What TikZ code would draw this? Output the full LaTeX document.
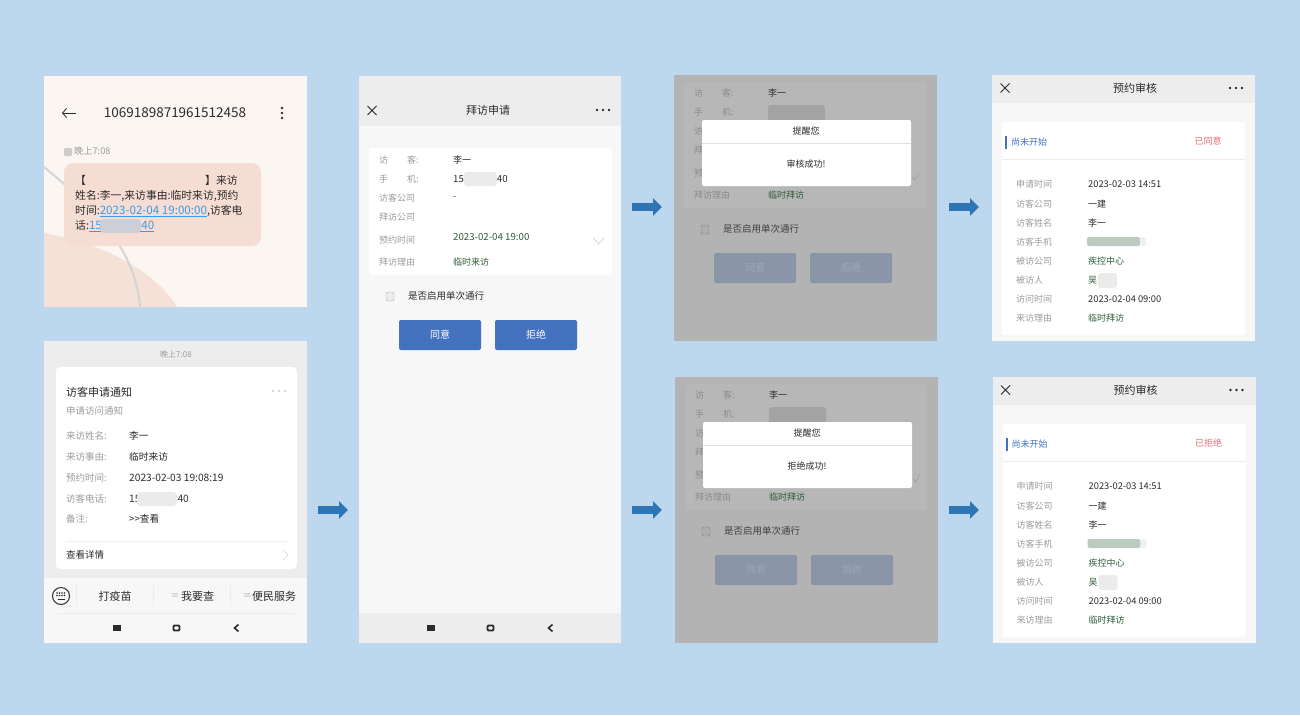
\documentclass[tikz,border=0pt]{standalone}
\usepackage{fontspec}
\setmainfont{Noto Sans CJK SC}
\usetikzlibrary{arrows.meta}

\definecolor{bgblue}{HTML}{BDD7EE}
\definecolor{arrowblue}{HTML}{2E75B6}
\definecolor{btnblue}{HTML}{4472BE}
\definecolor{btndim}{HTML}{8A95A8}
\definecolor{btndimtext}{HTML}{9DA7B7}
\definecolor{linkblue}{HTML}{3C9BE8}
\definecolor{okgreen}{HTML}{2F5E3A}
\definecolor{redtag}{HTML}{E8707A}
\definecolor{labgray}{HTML}{9C9C9C}
\definecolor{valdark}{HTML}{2B2B2B}
\definecolor{headgray}{HTML}{EDEDED}
\definecolor{pagegray}{HTML}{F7F7F7}
\definecolor{dimgray}{HTML}{B3B3B3}
\definecolor{dimcard}{HTML}{B7B7B7}
\definecolor{smsback}{HTML}{FBF6F2}
\definecolor{smspink}{HTML}{F5DDD3}

\tikzset{
  lab/.style={anchor=west,inner sep=0pt,text=labgray,font=\fontsize{9}{9}\selectfont},
  val/.style={anchor=west,inner sep=0pt,text=valdark,font=\fontsize{9}{9}\selectfont},
  grn/.style={val,text=okgreen},
  head/.style={inner sep=0pt,text=valdark,font=\fontsize{11}{11}\selectfont},
  sms/.style={anchor=west,inner sep=0pt,text=valdark,font=\fontsize{10.8}{11}\selectfont},
  btn/.style={inner sep=0pt,text=white,font=\fontsize{10}{10}\selectfont},
  flow/.style={draw=arrowblue,line width=7.5pt,-{Triangle[length=9pt,width=17pt]}},
  icon/.style={draw=valdark,line width=0.8pt},
}
\newcommand{\smslink}[1]{\textcolor{linkblue}{\fontsize{11.6}{11}\selectfont\underline{#1}}}
\newcommand{\numtxt}[1]{{\fontsize{10.2}{10}\selectfont #1}}

\begin{document}
\begin{tikzpicture}[x=1pt, y=-1pt]

\useasboundingbox[fill=bgblue] (0,0) rectangle (1300,715);

% text message
\fill[smsback] (44,76) rectangle (307,307);
\begin{scope}
\clip (44,76) rectangle (307,307);
\fill[smspink!85!smsback] (44,233) .. controls (100,243) and (155,270) .. (177,307) -- (44,307) -- cycle;
\draw[line width=2pt,black!17] (44,167) .. controls (90,205) and (135,245) .. (140,307);
\end{scope}
\fill[smspink,rounded corners=9pt] (64,163) rectangle (261,246);
\draw[icon,-{Straight Barb[length=4pt,width=9pt]}] (76,113) -- (62,113);
\foreach \i in {108,113,118} \fill[valdark] (282,\i) circle (1.4pt);
\node[head,font=\fontsize{13.5}{14}\selectfont] (smsnumber) at (175,113) {1069189871961512458};
\fill[black!20,rounded corners=1pt] (64,148) rectangle (72,156);
\node[lab,font=\fontsize{9.2}{9}\selectfont] (smstime) at (74,151) {晚上7:08};
\node[sms] (smsline1a) at (75,180) {【};
\node[sms] (smsline1b) at (205,180) {】来访};
\node[sms] (smsline2) at (75,196) {姓名:李一,来访事由:临时来访,预约};
\node[sms] (smsline3) at (75,211) {时间:\smslink{2023-02-04 19:00:00},访客电};
\node[sms] (smsline4) at (75,226) {话:\smslink{15\hspace{39.5pt}40}};
\fill[linkblue!22!smspink,rounded corners=4pt] (100,219) rectangle (141,233);

% service notice
\fill[headgray] (44,341) rectangle (307,643);
\fill[white,rounded corners=4pt] (56,367) rectangle (297,569);
\fill[pagegray] (44,578) rectangle (307,643);
\node[lab,inner sep=0pt,anchor=center,font=\fontsize{8}{8}\selectfont] (noticetime) at (176,354) {晚上7:08};
\node[val,font=\fontsize{11}{11}\selectfont] (noticetitle) at (66,392) {访客申请通知};
\node[lab,font=\fontsize{9.5}{10}\selectfont] (noticesub) at (66,411) {申请访问通知};
\foreach \i in {273,279,285} \fill[black!30] (\i,391) circle (0.8pt);
\foreach \i/\y/\a/\b in {1/436/来访姓名:/李一, 2/457/来访事由:/临时来访, 3/478/预约时间:/\numtxt{2023-02-03 19:08:19}, 4/499/访客电话:/\numtxt{15\hspace{37pt}40}, 5/519/备注:/>\kern0pt>查看} {
  \node[lab,font=\fontsize{9.5}{10}\selectfont] (noticelab\i) at (66,\y) {\a};
  \node[val,font=\fontsize{9.7}{10}\selectfont] (noticeval\i) at (129,\y) {\b};
}
\fill[black!8,rounded corners=4pt] (137,492) rectangle (177,506);
\draw[black!6] (66,541) -- (287,541);
\node[val,font=\fontsize{9.5}{10}\selectfont] (noticemore) at (66,555) {查看详情};
\draw[black!15] (283,550) -- (288,555) -- (283,560);
% menu of the notice screen
\draw[icon,line width=1pt] (61,596) circle (8.5pt);
\foreach \x in {57,59.5,62,64.5} \foreach \y in {593,595.5} \fill[valdark] (\x,\y) circle (0.8pt);
\draw[icon,line width=1pt] (57.5,599.5) -- (64.5,599.5);
\foreach \x in {76,153,230} \draw[black!8] (\x,585) -- (\x,606);
\draw[black!8] (58,613) -- (295,613);
\node[head] (menu1) at (115,596) {打疫苗};
\node[lab,text=black!30,font=\fontsize{8}{8}\selectfont] (menu2a) at (171,596) {≡};
\node[val,font=\fontsize{11}{11}\selectfont] (menu2) at (181,596) {我要查};
\node[lab,text=black!30,font=\fontsize{8}{8}\selectfont] (menu3a) at (243,596) {≡};
\node[val,font=\fontsize{11}{11}\selectfont] (menu3) at (252,596) {便民服务};

% visit request
\fill[pagegray] (359,76) rectangle (621,643);
\fill[headgray] (359,76) rectangle (621,126);
\fill[headgray] (359,613) rectangle (621,643);
\draw[icon] (367.5,106) -- (376.5,115) (376.5,106) -- (367.5,115);
\node[head] (visittitle) at (488,110) {拜访申请};
\foreach \i in {597,603,609} \fill[valdark] (\i,110) circle (1.3pt);
\fill[white,rounded corners=2pt] (369,148) rectangle (612,275);
\foreach \i/\y/\a in {1/160/访\hspace{19pt}客:, 2/179/手\hspace{19pt}机:, 3/198/访客公司, 4/217/拜访公司, 5/240/预约时间, 6/262/拜访理由}
  \node[lab] (visitlab\i) at (379,\y) {\a};
\node[val] (visitval1) at (453,160) {李一};
\node[val,font=\fontsize{9.7}{10}\selectfont] (visitval2) at (453,179) {15\hspace{33pt}40};
\fill[black!8,rounded corners=3pt] (464,172) rectangle (497,186);
\node[val] (visitval3) at (453,198) {-};
\node[grn,font=\fontsize{9.7}{10}\selectfont] (visitval5) at (453,237) {2023-02-04 19:00};
\node[grn] (visitval6) at (453,262) {临时来访};
\draw[black!25] (593,238) -- (598.5,244) -- (604,238);
\draw[black!30,fill=black!8,rounded corners=1.5pt] (386,292) rectangle (394,301);
\node[val,font=\fontsize{9.5}{10}\selectfont] (visitcheck) at (408,296) {是否启用单次通行};
\fill[btnblue,rounded corners=2pt] (399,320) rectangle (481,350);
\fill[btnblue,rounded corners=2pt] (495,320) rectangle (577,350);
\node[btn] (visityes) at (440,335) {同意};
\node[btn] (visitno) at (536,335) {拒绝};

% buttons at the bottom of both screens
\foreach \dx in {0,314} {
  \fill[valdark] (113+\dx,625) rectangle (121+\dx,631);
  \draw[valdark,line width=1.8pt,rounded corners=1pt] (173.5+\dx,625.5) rectangle (179.5+\dx,630.5);
  \draw[valdark,line width=1.6pt] (238.5+\dx,624.5) -- (234.5+\dx,628) -- (238.5+\dx,631.5);
}

% result screens, upper one and lower one
\foreach \dy/\dx/\ex/\nm/\msg/\tag in {0/0/0/a/审核成功!/已同意, 302/1/0.5/b/拒绝成功!/已拒绝} {
  \begin{scope}[shift={(\dx,\dy)}]
  \fill[dimgray] (674,75) rectangle (937,341);
  \fill[dimcard,rounded corners=2pt] (684,82) rectangle (926,208);
  \foreach \i/\y/\a in {1/93/访\hspace{19pt}客:, 2/112/手\hspace{19pt}机:, 3/131/访, 4/150/拜, 5/173/预, 6/195/拜访理由}
    \node[lab,text=black!45] (dim\nm lab\i) at (694,\y) {\a};
  \node[val] (dim\nm val1) at (768,93) {李一};
  \fill[black!36,rounded corners=3pt] (768,105) rectangle (825,122);
  \node[grn] (dim\nm val6) at (768,195) {临时拜访};
  \draw[black!40] (912,177) -- (915,180) -- (919,172);
  \fill[white,rounded corners=2pt] (702,120) rectangle (911,186);
  \draw[black!12] (702,143.5) -- (911,143.5);
  \node[head,font=\fontsize{9}{9}\selectfont] (dim\nm title) at (806,131) {提醒您};
  \node[head,font=\fontsize{9}{9}\selectfont] (dim\nm msg) at (806,164) {\msg};
  \draw[black!50,fill=black!32,rounded corners=1.5pt] (701,225) rectangle (709,234);
  \node[val,text=black!75,font=\fontsize{9.5}{10}\selectfont] (dim\nm check) at (723,229) {是否启用单次通行};
  \fill[btndim,rounded corners=2pt] (714,253) rectangle (796,283);
  \fill[btndim,rounded corners=2pt] (810,253) rectangle (892,283);
  \node[btn,text=btndimtext] (dim\nm yes) at (755,268) {同意};
  \node[btn,text=btndimtext] (dim\nm no) at (851,268) {拒绝};
  \end{scope}

  \begin{scope}[shift={(\ex,\dy)}]
  \fill[pagegray] (992,75) rectangle (1255,341);
  \fill[headgray] (992,75) rectangle (1255,103);
  \draw[icon] (1000.5,83.5) -- (1009.5,92.5) (1009.5,83.5) -- (1000.5,92.5);
  \node[head] (rev\nm title) at (1135,88) {预约审核};
  \foreach \i in {1230,1236,1242} \fill[valdark] (\i,88) circle (1.3pt);
  \fill[white,rounded corners=2pt] (1002,122) rectangle (1245,335);
  \draw[black!8] (1002,159) -- (1245,159);
  \fill[btnblue] (1005,136) rectangle (1007,149);
  \node[val,text=btnblue] (rev\nm state) at (1011,142) {尚未开始};
  \node[head,text=redtag,font=\fontsize{9}{9}\selectfont] (rev\nm tag) at (1208,141) {\tag};
  \foreach \i/\y/\a in {1/184/申请时间, 2/204/访客公司, 3/223/访客姓名, 4/242/访客手机, 5/261/被访公司, 6/280/被访人, 7/299/访问时间, 8/318/来访理由}
    \node[lab] (rev\nm lab\i) at (1016,\y) {\a};
  \node[val,font=\fontsize{9.3}{10}\selectfont] (rev\nm val1) at (1088,184) {2023-02-03 14:51};
  \node[val] (rev\nm val2) at (1088,204) {一建};
  \node[val] (rev\nm val3) at (1088,223) {李一};
  \fill[okgreen!32!white,rounded corners=2pt] (1087,237) rectangle (1140,246);
  \fill[black!6,rounded corners=2pt] (1140,237) rectangle (1146,246);
  \node[grn] (rev\nm val5) at (1088,261) {疾控中心};
  \node[grn] (rev\nm val6) at (1088,280) {吴};
  \fill[black!8,rounded corners=3pt] (1098,273) rectangle (1117,288);
  \node[val,font=\fontsize{9.3}{10}\selectfont] (rev\nm val7) at (1088,299) {2023-02-04 09:00};
  \node[grn] (rev\nm val8) at (1088,318) {临时拜访};
  \end{scope}
}

% arrows between the screens
\coordinate (a1s) at (318,510);
\coordinate (a1e) at (348,510);
\coordinate (a2s) at (632,207);
\coordinate (a2e) at (662,207);
\coordinate (a3s) at (632,510);
\coordinate (a3e) at (662,510);
\coordinate (a4s) at (949,207);
\coordinate (a4e) at (979,207);
\coordinate (a5s) at (949,510);
\coordinate (a5e) at (979,510);
\foreach \i in {1,...,5} \draw[flow] (a\i s) -- (a\i e);

\end{tikzpicture}
\end{document}
